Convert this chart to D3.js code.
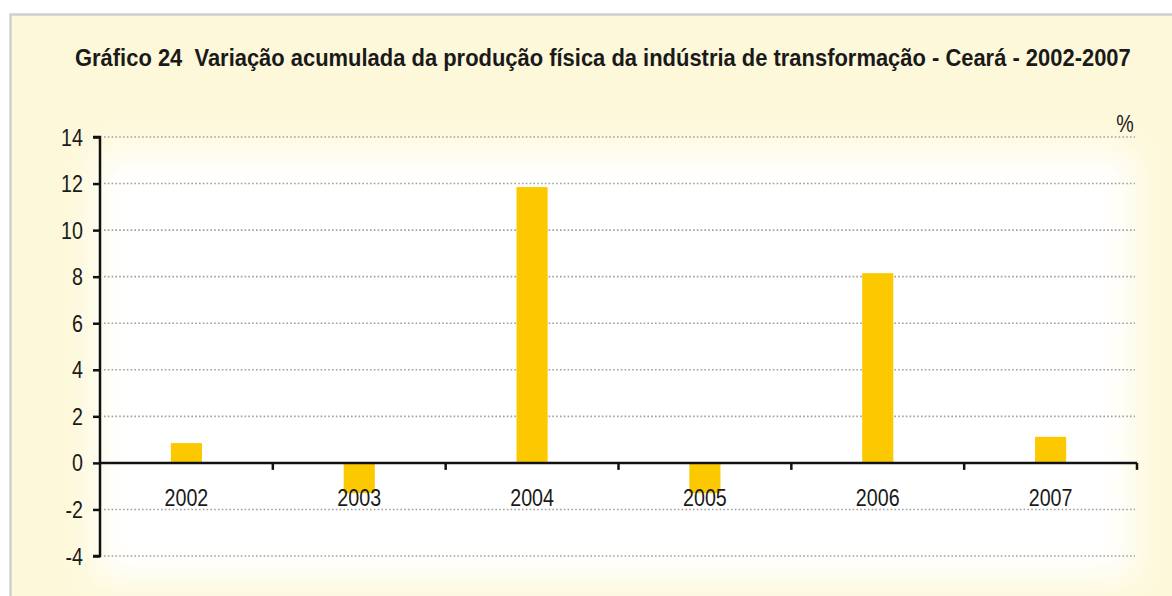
<!DOCTYPE html>
<html>
<head>
<meta charset="utf-8">
<script src="https://cdn.jsdelivr.net/npm/d3@7"></script>
<style>
  html, body { margin: 0; padding: 0; background: #ffffff; }
  svg { display: block; }
  .title { font-family: "Liberation Sans", Arial, sans-serif; font-weight: bold; fill: #1a1a1a; white-space: pre; }
  .lbl { font-family: "Liberation Sans", Arial, sans-serif; fill: #1a1a1a; }
</style>
</head>
<body>
<script>
// Variação acumulada da produção física - Ceará
const years = ["2002", "2003", "2004", "2005", "2006", "2007"];
const values = [0.85, -1.3, 11.85, -1.3, 8.15, 1.12];
const yTicks = [-4, -2, 0, 2, 4, 6, 8, 10, 12, 14];
const titleText = "Gráfico 24\u00a0\u00a0Variação acumulada da produção física da indústria de transformação - Ceará - 2002-2007";

const W = 1172, H = 596;
const NARROW = 0.82; // horizontal squeeze for a condensed look
const svg = d3.select("body").append("svg").attr("width", W).attr("height", H);

const defs = svg.append("defs");
const blur = defs.append("filter").attr("id", "soft").attr("x", "-10%").attr("y", "-10%").attr("width", "120%").attr("height", "120%");
blur.append("feGaussianBlur").attr("stdDeviation", 18);

// panel background and frame
svg.append("rect").attr("x", 0).attr("y", 0).attr("width", W).attr("height", H).attr("fill", "#ffffff");
svg.append("rect").attr("x", 10).attr("y", 14).attr("width", W - 10).attr("height", H - 14)
  .attr("fill", "#fdf8d9");
svg.append("rect").attr("x", 95).attr("y", 150).attr("width", 1040).attr("height", 430)
  .attr("fill", "#ffffff").attr("filter", "url(#soft)");
svg.append("path").attr("d", `M10.5,${H} V14.5 H${W}`).attr("fill", "none")
  .attr("stroke", "#cfcfcf").attr("stroke-width", 2.5);

// condensed text helper
function narrowText(g, x, y, txt, size, anchor, cls) {
  return g.append("text").attr("class", cls || "lbl")
    .attr("transform", `translate(${x},${y}) scale(${NARROW},1)`)
    .attr("text-anchor", anchor).attr("font-size", size).text(txt);
}

// title, squeezed horizontally to span the panel width
const title = svg.append("text").attr("class", "title")
  .attr("font-size", 24.5).text(titleText);
const tw = title.node().getComputedTextLength();
title.attr("transform", `translate(75,66) scale(${1056 / tw},1)`);

// scales
const x = d3.scaleBand().domain(years).range([100, 1137]).paddingInner(0.82).paddingOuter(0.41);
const y = d3.scaleLinear().domain([-4, 14]).range([556, 137]);

// dotted gridlines
svg.append("g").selectAll("line").data(yTicks.filter(d => d !== 0)).join("line")
  .attr("x1", 104).attr("x2", 1135)
  .attr("y1", d => y(d)).attr("y2", d => y(d))
  .attr("stroke", "#a0a0a0").attr("stroke-width", 1.6).attr("stroke-dasharray", "1.6,2.2");

// bars
svg.append("g").selectAll("rect").data(values).join("rect")
  .attr("x", (d, i) => x(years[i]))
  .attr("width", x.bandwidth())
  .attr("y", d => y(Math.max(0, d)))
  .attr("height", d => Math.abs(y(d) - y(0)))
  .attr("fill", "#fcc800");

// y axis
const yAxis = svg.append("g").attr("transform", "translate(100,0)")
  .call(d3.axisLeft(y).tickValues(yTicks).tickSize(7).tickFormat(""));
yAxis.select(".domain").attr("stroke", "#111").attr("stroke-width", 2.5)
  .attr("d", "M-7,137 H0 V556 H-7");
yAxis.selectAll(".tick line").attr("stroke", "#111").attr("stroke-width", 2.5);
const yLab = svg.append("g");
yTicks.forEach(t => narrowText(yLab, 83, y(t) + 8.5, String(t), 24, "end"));

// x axis at zero line, ticks on category boundaries
const xBounds = d3.range(years.length + 1).map(i => 100 + i * (1037 / years.length));
svg.append("line").attr("x1", 100).attr("x2", 1137).attr("y1", y(0)).attr("y2", y(0))
  .attr("stroke", "#111").attr("stroke-width", 2.5);
svg.append("g").selectAll("line").data(xBounds.slice(1)).join("line")
  .attr("x1", d => d).attr("x2", d => d).attr("y1", y(0)).attr("y2", y(0) + 7)
  .attr("stroke", "#111").attr("stroke-width", 2.5);
const xLab = svg.append("g");
years.forEach(yr => narrowText(xLab, x(yr) + x.bandwidth() / 2, 506, yr, 24, "middle"));

// unit label
narrowText(svg, 1125, 132, "%", 24, "middle");
</script>
</body>
</html>
